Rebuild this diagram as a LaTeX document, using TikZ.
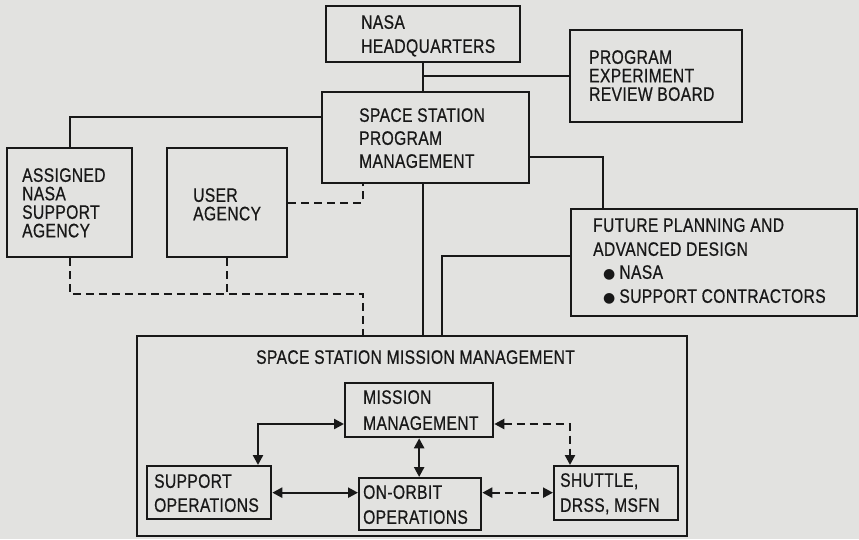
\documentclass[tikz,border=0pt]{standalone}
\usepackage{fontspec}
\setmainfont{Liberation Sans}[FakeStretch=0.8,FakeBold=0.6,LetterSpace=2]
\newfontfamily\symfont{DejaVu Sans}
\usetikzlibrary{arrows.meta}
\definecolor{paper}{RGB}{226,226,224}
\definecolor{ink}{RGB}{24,24,24}
\tikzset{
  box/.style={draw=ink, line width=2.3pt, inner sep=0pt, anchor=north west},
  txt/.style={inner sep=0pt, anchor=north west, align=left, text=ink, font=\fontsize{19.5}{24}\selectfont},
  tight/.style={font=\fontsize{19.5}{18.5}\selectfont},
  link/.style={draw=ink, line width=2.3pt},
  dlink/.style={draw=ink, line width=2.3pt, dash pattern=on 8pt off 5pt},
  twoway/.style={{Triangle[length=10pt,width=10pt]}-{Triangle[length=10pt,width=10pt]}}
}
\begin{document}
\begin{tikzpicture}[x=1pt,y=-1pt]
\fill[paper] (0,0) rectangle (859,539);
\useasboundingbox (0,0) rectangle (859,539);

% boxes
\node[box, minimum width=194pt, minimum height=56pt] (hq) at (325,5) {};
\node[box, minimum width=172pt, minimum height=92pt] (perb) at (569,29) {};
\node[box, minimum width=207pt, minimum height=91pt] (sspm) at (321,91) {};
\node[box, minimum width=125pt, minimum height=109pt] (assigned) at (6,147) {};
\node[box, minimum width=120pt, minimum height=109pt] (user) at (166,147) {};
\node[box, minimum width=286pt, minimum height=107pt] (future) at (570,208) {};
\node[box, minimum width=550pt, minimum height=200pt] (mission) at (136,335) {};
\node[box, minimum width=148pt, minimum height=54pt] (mm) at (344,382) {};
\node[box, minimum width=124pt, minimum height=53pt] (supp) at (146,465) {};
\node[box, minimum width=122pt, minimum height=52pt] (orbit) at (358,477) {};
\node[box, minimum width=124pt, minimum height=54pt] (shuttle) at (553,465) {};

% texts
\node[txt] (hqt) at ([xshift=36pt,yshift=-10pt]hq.north west) {NASA\\HEADQUARTERS};
\node[txt, tight] (perbt) at ([xshift=20pt,yshift=-21pt]perb.north west) {PROGRAM\\EXPERIMENT\\REVIEW BOARD};
\node[txt, font=\fontsize{19.5}{23}\selectfont] (sspmt) at ([xshift=38pt,yshift=-17pt]sspm.north west) {SPACE STATION\\PROGRAM\\MANAGEMENT};
\node[txt, tight] (assignedt) at ([xshift=16pt,yshift=-21pt]assigned.north west) {ASSIGNED\\NASA\\SUPPORT\\AGENCY};
\node[txt, tight] (usert) at ([xshift=27pt,yshift=-41pt]user.north west) {USER\\AGENCY};
\node[txt] (futuret) at ([xshift=23pt,yshift=-10pt]future.north west)
  {FUTURE PLANNING AND\\ADVANCED DESIGN\\[-1pt]
   \hspace*{10pt}{\symfont\fontsize{14}{14}\selectfont ●}\hspace{4pt}NASA\\
   \hspace*{10pt}{\symfont\fontsize{14}{14}\selectfont ●}\hspace{4pt}SUPPORT CONTRACTORS};
\node[txt] (missiont) at ([xshift=120pt,yshift=-15pt]mission.north west) {SPACE STATION MISSION MANAGEMENT};
\node[txt, font=\fontsize{19.5}{26}\selectfont] (mmt) at ([xshift=19pt,yshift=-8pt]mm.north west) {MISSION\\MANAGEMENT};
\node[txt] (suppt) at ([xshift=8pt,yshift=-9pt]supp.north west) {SUPPORT\\OPERATIONS};
\node[txt, font=\fontsize{19.5}{25}\selectfont] (orbitt) at ([xshift=5pt,yshift=-8pt]orbit.north west) {ON-ORBIT\\OPERATIONS};
\node[txt, font=\fontsize{19.5}{25}\selectfont] (shuttlet) at ([xshift=7pt,yshift=-8pt]shuttle.north west) {SHUTTLE,\\DRSS, MSFN};

% solid connectors
\draw[link] (hq.south) -- (hq.south |- sspm.north);
\draw[link] (perb.west |- 0,76) -- (hq.south |- 0,76);
\draw[link] (assigned.north) |- (sspm.west |- 0,117);
\draw[link] (hq.south |- sspm.south) -- (hq.south |- mission.north);
\draw[link] (sspm.east |- 0,157) -| (future.north -| 603,0);
\draw[link] (future.west |- 0,256) -| (mission.north -| 442,0);

% dashed connectors
\draw[dlink] (user.east) -| (sspm.south -| 363,0);
\draw[dlink] (assigned.south) |- (363,294) -- (mission.north -| 363,0);
\draw[dlink] (user.south) -- (user.south |- 0,294);

% internal arrows
\draw[link, twoway] (supp.north -| 258,0) |- (mm.west |- 0,424);
\draw[link, twoway] (mm.south) -- (mm.south |- orbit.north);
\draw[link, twoway] (supp.east) -- (supp.east -| orbit.west);
\draw[dlink, twoway] (supp.east -| orbit.east) -- (supp.east -| shuttle.west);
\draw[dlink, twoway] (mm.east |- 0,424) -| (shuttle.north -| 570,0);
\end{tikzpicture}
\end{document}
